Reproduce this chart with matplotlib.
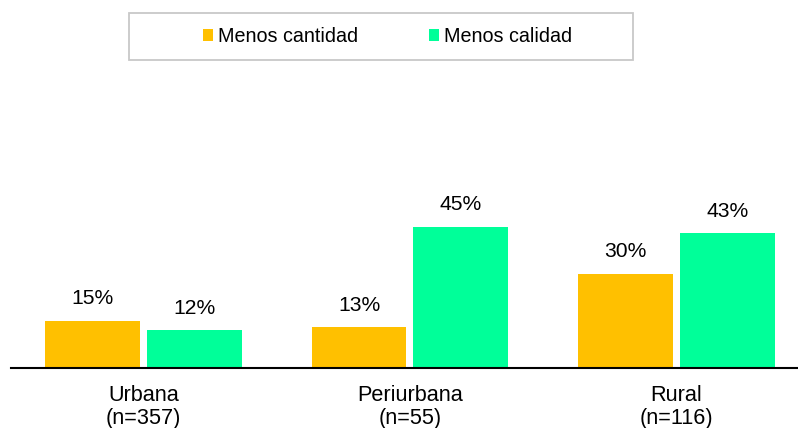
import matplotlib
matplotlib.use("Agg")
import matplotlib.pyplot as plt
from matplotlib.patches import Patch, Rectangle
import numpy as np

plt.rcParams['font.family'] = ['Liberation Sans', 'DejaVu Sans']

categories = ["Urbana\n(n=357)", "Periurbana\n(n=55)", "Rural\n(n=116)"]
series_names = ["Menos cantidad", "Menos calidad"]
cantidad = [15, 13, 30]
calidad = [12, 45, 43]
colors = ["#FFC000", "#00FF99"]
txt_col = "#000000"

W, H = 798, 428
fig = plt.figure(figsize=(W / 100, H / 100), dpi=100)
# plot area: baseline at y=367.7px, x from 11px to right edge
ax = fig.add_axes([11 / W, 1 - 367.7 / H, 1 - 11 / W, 0.62])

x = np.arange(len(categories))
bw = 0.356
off = 0.191
b1 = ax.bar(x - off, cantidad, bw, color=colors[0])
b2 = ax.bar(x + off, calidad, bw, color=colors[1])

for bars, vals in [(b1, cantidad), (b2, calidad)]:
    for b, v in zip(bars, vals):
        ax.annotate(f"{v}%", (b.get_x() + b.get_width() / 2, v),
                    xytext=(0, 11.8), textcoords="offset points",
                    ha="center", va="baseline", fontsize=15.2, color=txt_col)

ax.set_xlim(-0.497, 2.456)
ax.set_ylim(0, 0.62 * H / 3.13)
ax.set_xticks(x)
ax.set_xticklabels(categories, fontsize=15.6, color=txt_col, linespacing=1.12)
ax.tick_params(axis="x", length=0, pad=12.5)
ax.set_yticks([])
for s in ["top", "right", "left"]:
    ax.spines[s].set_visible(False)
ax.spines["bottom"].set_linewidth(1.5)
ax.spines["bottom"].set_color("black")

# legend box
fig.patches.append(Rectangle((129 / W, 1 - 60 / H), 504 / W, 47 / H,
                             transform=fig.transFigure, fill=False,
                             edgecolor="#c8c8c8", linewidth=1.3))
handles = [Patch(facecolor=c, edgecolor="none") for c in colors]
fig.legend(handles, series_names, loc="center", ncol=2,
           bbox_to_anchor=(387.5 / W, 1 - 36.5 / H), frameon=False,
           fontsize=14.2, handlelength=0.5, handleheight=0.5,
           handletextpad=0.25, columnspacing=3.6, labelcolor=txt_col)

fig.savefig("out.png", dpi=100)
